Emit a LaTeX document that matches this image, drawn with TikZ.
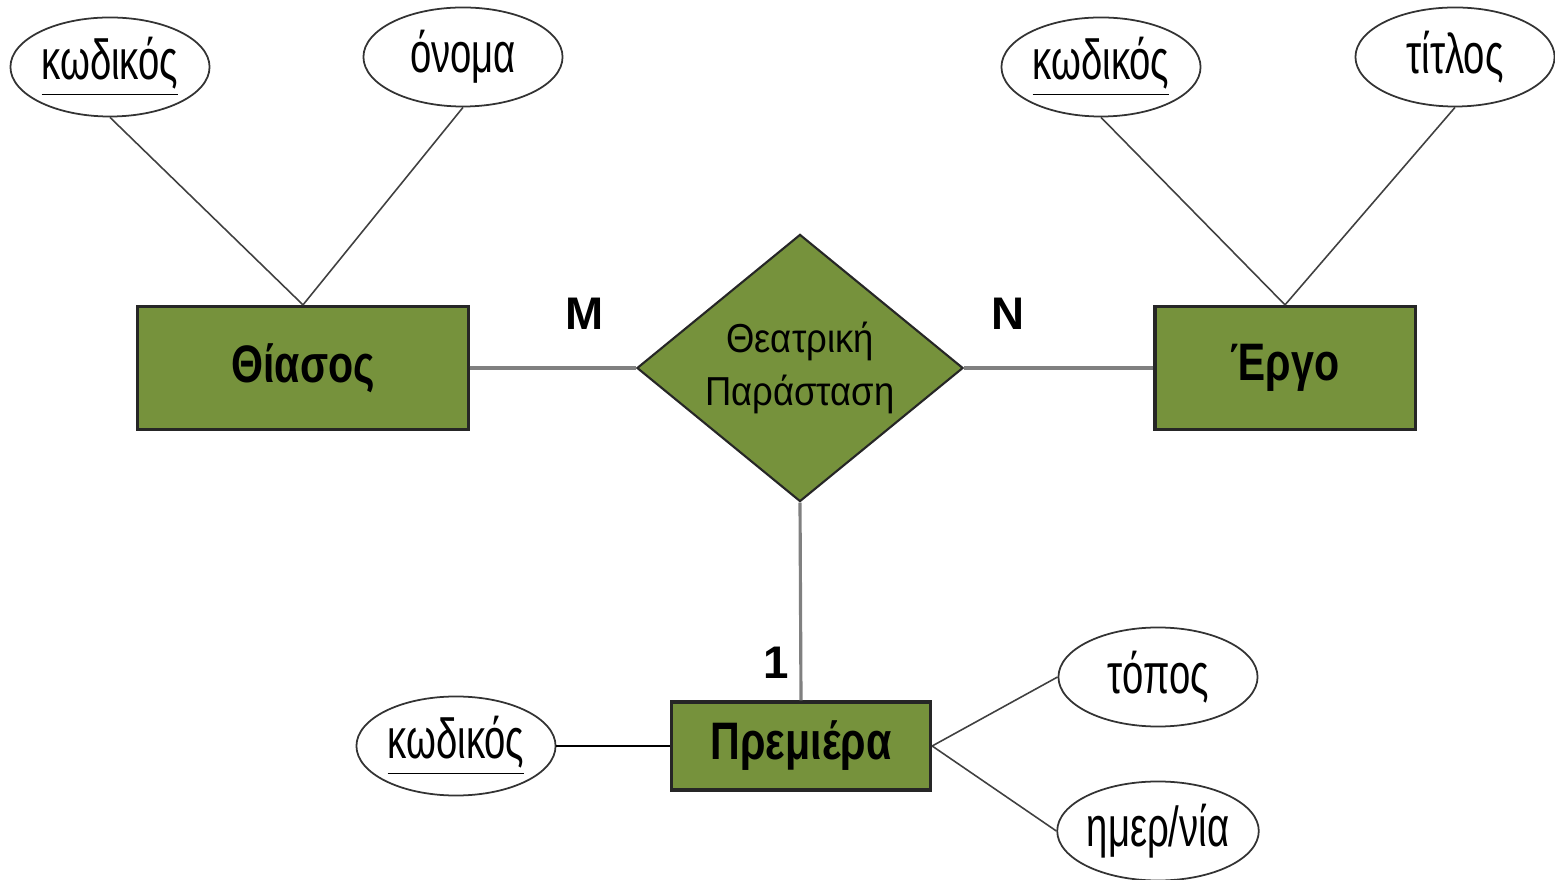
\documentclass[tikz,border=0pt]{standalone}
\usepackage{fontspec}
\setmainfont{Liberation Sans}
\newfontfamily\attrfont{Liberation Sans}[FakeStretch=0.68]
\newfontfamily\entfont{Liberation Sans}[FakeStretch=0.78]
\newfontfamily\relfont{Liberation Sans}[FakeStretch=0.9]
\usepackage{tikz}
\usetikzlibrary{shapes.geometric}

\definecolor{olive}{HTML}{76923C}

\tikzset{
  entity/.style={draw=black!85,line width=0.9pt,fill=olive,rectangle,
    minimum height=1.23cm,inner sep=0pt,
    font=\entfont\fontsize{15}{18}\selectfont\bfseries},
  attr/.style={draw=black!80,line width=0.5pt,ellipse,fill=white,
    minimum width=1.99cm,minimum height=0.99cm,inner sep=0pt,
    font=\attrfont\fontsize{16}{19}\selectfont},
  relship/.style={draw=black!85,line width=0.6pt,fill=olive,diamond,
    aspect=1.22,minimum width=3.26cm,minimum height=2.67cm,inner sep=0pt,
    align=center,font=\relfont\fontsize{11.5}{15}\selectfont},
  card/.style={font=\fontsize{13}{15}\selectfont\bfseries},
  thin/.style={draw=black!75,line width=0.45pt},
  thick/.style={draw=black!50,line width=0.9pt},
}

\begin{document}
\begin{tikzpicture}[x=0.01cm,y=-0.01cm]
\useasboundingbox (0,0) rectangle (1555,880);

% entities and relationship
\node[entity,minimum width=3.3cm] (thiasos) at (303,368) {Θίασος};
\node[entity,minimum width=2.6cm] (ergo) at (1285,368) {Έργο};
\node[entity,minimum width=2.59cm,minimum height=0.88cm] (premiera) at (801,746) {Πρεμιέρα};
\node[relship] (parastasi) at (800,368) {Θεατρική\\Παράσταση};

% attributes
\node[attr] (kodthiasos) at (110,67) {\underline{κωδικός}};
\node[attr] (onoma) at (463,57) {όνομα};
\node[attr] (kodergo) at (1101,67) {\underline{κωδικός}};
\node[attr] (titlos) at (1455,57) {τίτλος};
\node[attr] (kodprem) at (456,746) {\underline{κωδικός}};
\node[attr] (topos) at (1158,677) {τόπος};
\node[attr] (imernia) at (1158,831) {ημερ/νία};

% cardinalities
\node[card] (cardm) at (585,314) {M};
\node[card] (cardn) at (1008,314) {N};
\node[card] (card1) at (776,663) {1};

% connectors
\draw[thin] (kodthiasos.south) -- (thiasos.north);
\draw[thin] (onoma.south) -- (thiasos.north);
\draw[thin] (kodergo.south) -- (ergo.north);
\draw[thin] (titlos.south) -- (ergo.north);
\draw[thick] (thiasos.east) -- (parastasi.west);
\draw[thick] (parastasi.east) -- (ergo.west);
\draw[thick] (parastasi.south) -- (premiera.north);
\draw[draw=black,line width=0.8pt] (kodprem.east) -- (premiera.west);
\draw[thin] (premiera.east) -- (topos.west);
\draw[thin] (premiera.east) -- (imernia.west);
\end{tikzpicture}
\end{document}
